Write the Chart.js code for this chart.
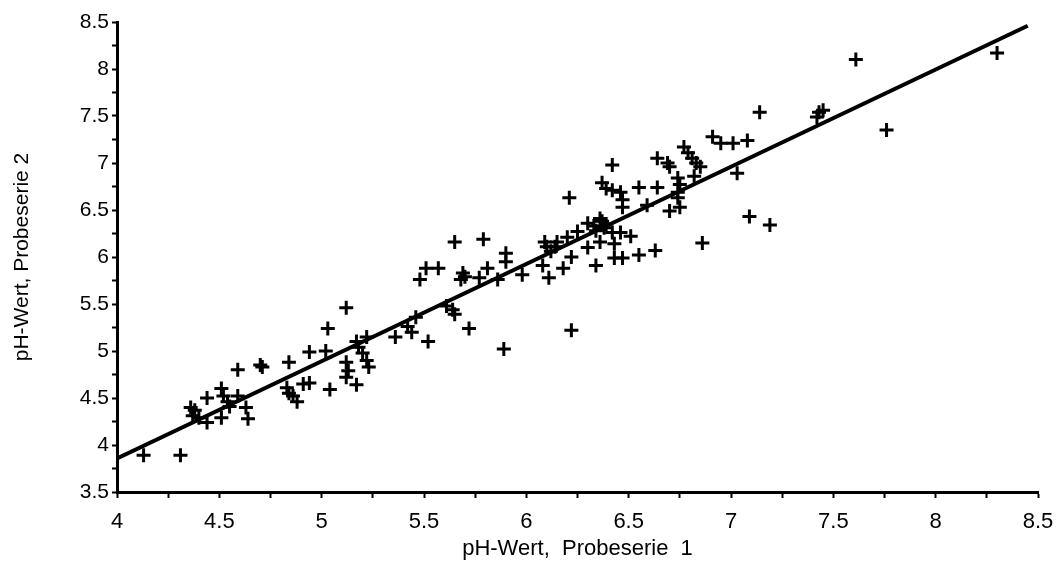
<!DOCTYPE html>
<html>
<head>
<meta charset="utf-8">
<script src="https://cdn.jsdelivr.net/npm/chart.js@4.4.1/dist/chart.umd.min.js"></script>
<style>
  html, body { margin: 0; padding: 0; background: #fff; }
  #wrap { width: 1059px; height: 562px; }
</style>
</head>
<body>
<div id="wrap"><canvas id="phChart" width="1059" height="562"></canvas></div>
<script>
// pH-Werte, Probeserie 1 (x) gegen Probeserie 2 (y)
const serie1 = [
  4.13, 4.31, 4.36, 4.38, 4.37, 4.40, 4.44, 4.44, 4.51, 4.52,
  4.54, 4.55, 4.51, 4.59, 4.59, 4.63, 4.64, 4.70, 4.71, 4.84,
  4.83, 4.84, 4.86, 4.88, 4.91, 4.94, 4.94, 5.02, 5.03, 5.04,
  5.12, 5.12, 5.13, 5.12, 5.17, 5.17, 5.18, 5.20, 5.22, 5.23,
  5.22, 5.36, 5.42, 5.44, 5.46, 5.52, 5.48, 5.51, 5.57, 5.61,
  5.64, 5.65, 5.65, 5.79, 5.72, 5.69, 5.68, 5.70, 5.77, 5.81,
  5.86, 5.90, 5.90, 5.89, 5.98, 6.08, 6.10, 6.09, 6.12, 6.14,
  6.15, 6.11, 6.18, 6.22, 6.25, 6.21, 6.22, 6.30, 6.30, 6.33,
  6.34, 6.36, 6.37, 6.39, 6.38, 6.34, 6.36, 6.42, 6.46, 6.51,
  6.43, 6.43, 6.47, 6.55, 6.63, 6.42, 6.37, 6.39, 6.42, 6.46,
  6.47, 6.47, 6.55, 6.64, 6.59, 6.64, 6.69, 6.70, 6.74, 6.75,
  6.74, 6.74, 6.75, 6.70, 6.77, 6.79, 6.81, 6.83, 6.85, 6.82,
  6.91, 6.95, 7.01, 7.08, 7.03, 7.09, 7.19, 6.86, 7.14, 7.43,
  7.45, 7.42, 7.76, 7.61, 8.30, 6.20
];
const serie2 = [
  3.89, 3.89, 4.40, 4.37, 4.31, 4.29, 4.50, 4.24, 4.60, 4.52,
  4.46, 4.41, 4.29, 4.80, 4.52, 4.40, 4.28, 4.85, 4.83, 4.88,
  4.61, 4.55, 4.52, 4.46, 4.65, 4.66, 4.99, 5.00, 5.24, 4.59,
  5.46, 4.88, 4.79, 4.72, 4.64, 5.10, 5.04, 4.98, 4.90, 4.83,
  5.15, 5.15, 5.26, 5.20, 5.36, 5.10, 5.76, 5.88, 5.88, 5.48,
  5.44, 5.39, 6.16, 6.19, 5.24, 5.83, 5.76, 5.79, 5.78, 5.88,
  5.76, 6.04, 5.95, 5.02, 5.81, 5.91, 6.11, 6.16, 6.06, 6.11,
  6.16, 5.78, 5.88, 6.00, 6.27, 6.63, 5.22, 6.10, 6.36, 6.33,
  6.28, 6.41, 6.38, 6.35, 6.31, 5.91, 6.16, 6.26, 6.26, 6.22,
  6.14, 5.99, 5.99, 6.02, 6.07, 6.98, 6.79, 6.73, 6.71, 6.69,
  6.61, 6.53, 6.74, 6.74, 6.55, 7.05, 7.00, 6.96, 6.84, 6.77,
  6.69, 6.63, 6.53, 6.49, 7.17, 7.11, 7.05, 7.00, 6.96, 6.86,
  7.28, 7.21, 7.21, 7.24, 6.89, 6.43, 6.34, 6.15, 7.54, 7.54,
  7.56, 7.49, 7.35, 8.10, 8.17, 6.21
];

// Regressionsgerade (Endpunkte)
const fitX = [4.0, 8.45];
const fitY = [3.857, 8.46];

const xTicks = [4, 4.5, 5, 5.5, 6, 6.5, 7, 7.5, 8, 8.5];
const yTicks = [3.5, 4, 4.5, 5, 5.5, 6, 6.5, 7, 7.5, 8, 8.5];

const points = serie1.map((x, i) => ({ x: x, y: serie2[i] }));
const fitLine = fitX.map((x, i) => ({ x: x, y: fitY[i] }));

function halfLabel(list) {
  return function (value) {
    const hit = list.find(t => Math.abs(t - value) < 1e-6);
    return hit === undefined ? '' : String(hit);
  };
}

const ctx = document.getElementById('phChart').getContext('2d');
new Chart(ctx, {
  type: 'scatter',
  data: {
    datasets: [
      {
        label: 'Proben',
        data: points,
        pointStyle: 'cross',
        pointRadius: 7,
        pointBorderWidth: 3,
        borderColor: '#000',
        backgroundColor: '#000'
      },
      {
        type: 'line',
        label: 'Regression',
        data: fitLine,
        borderColor: '#000',
        borderWidth: 4,
        pointRadius: 0,
        fill: false
      }
    ]
  },
  options: {
    responsive: false,
    animation: false,
    layout: { padding: { left: 0, right: 21, top: 22, bottom: 0 } },
    plugins: {
      legend: { display: false },
      tooltip: { enabled: false }
    },
    scales: {
      x: {
        type: 'linear',
        min: 4,
        max: 8.5,
        ticks: {
          stepSize: 0.25,
          autoSkip: false,
          maxRotation: 0,
          color: '#000',
          padding: 11,
          font: { family: '"Liberation Sans Narrow", "Liberation Sans", Arial', size: 22 },
          callback: halfLabel(xTicks)
        },
        grid: { drawOnChartArea: false, drawTicks: true, tickLength: 6, tickWidth: 2, color: '#000' },
        border: { display: true, color: '#000', width: 3 },
        title: {
          display: true,
          text: 'pH-Wert,  Probeserie  1',
          color: '#000',
          padding: { top: 0, bottom: 0 },
          font: { family: '"Liberation Sans Narrow", "Liberation Sans", Arial', size: 22 }
        },
        afterFit: s => { s.height = 70; s.paddingRight = 0; s.paddingLeft = 0; }
      },
      y: {
        type: 'linear',
        min: 3.5,
        max: 8.5,
        ticks: {
          stepSize: 0.25,
          autoSkip: false,
          color: '#000',
          padding: 3,
          font: { family: '"Liberation Sans", Arial', size: 21 },
          callback: halfLabel(yTicks)
        },
        grid: { drawOnChartArea: false, drawTicks: true, tickLength: 5, tickWidth: 2, color: '#000' },
        border: { display: true, color: '#000', width: 3 },
        title: {
          display: true,
          text: 'pH-Wert, Probeserie 2',
          color: '#000',
          padding: { top: 10, bottom: 0 },
          font: { family: '"Liberation Sans", Arial', size: 21 }
        },
        afterFit: s => { s.width = 117; s.paddingTop = 0; s.paddingBottom = 0; }
      }
    }
  }
});
</script>
</body>
</html>
